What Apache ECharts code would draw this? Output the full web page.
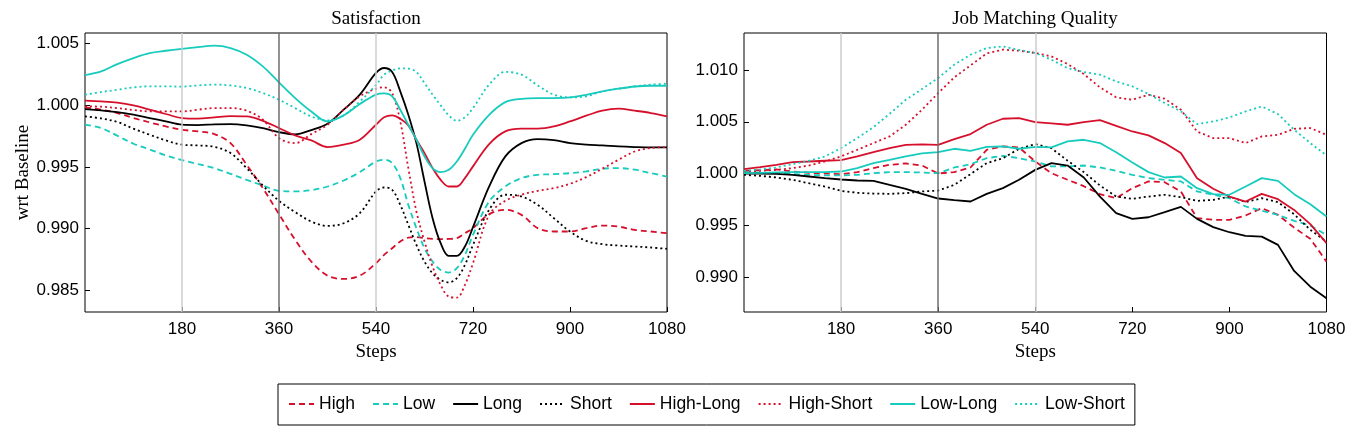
<!DOCTYPE html>
<html><head><meta charset="utf-8">
<script src="https://cdn.jsdelivr.net/npm/echarts@6/dist/echarts.min.js"></script>
<style>html,body{margin:0;padding:0;background:#fff}#c{width:1353px;height:432px}</style>
</head><body><div id="c"></div>
<script>
// ---------- data ----------
const seriesNames = ['High','Low','Long','Short','High-Long','High-Short','Low-Long','Low-Short'];
const panelTitles = ['Satisfaction','Job Matching Quality'];
const xTickStep = 180;
const yTickStep = 0.005;

// Satisfaction panel
const satSteps = [0,30,60,90,120,150,180,210,240,270,300,330,360,390,420,450,480,510,540,555,570,585,600,615,630,645,660,675,690,705,720,750,780,810,840,870,900,930,960,990,1020,1050,1080];
const satHigh = [0.99984,0.99965,0.99938,0.99897,0.99862,0.99829,0.99802,0.99789,0.99767,0.99694,0.99518,0.99329,0.99118,0.98909,0.98733,0.98619,0.98592,0.98619,0.98720,0.98787,0.98841,0.98896,0.98928,0.98931,0.98923,0.98917,0.98915,0.98917,0.98923,0.98963,0.99004,0.99118,0.99153,0.99112,0.99004,0.98977,0.98977,0.99004,0.99025,0.99017,0.98990,0.98977,0.98963];
const satLow = [0.99843,0.99816,0.99754,0.99689,0.99643,0.99594,0.99556,0.99524,0.99491,0.99445,0.99396,0.99350,0.99307,0.99302,0.99312,0.99342,0.99391,0.99459,0.99545,0.99559,0.99532,0.99410,0.99193,0.99004,0.98841,0.98733,0.98665,0.98644,0.98679,0.98787,0.98950,0.99220,0.99342,0.99410,0.99437,0.99442,0.99450,0.99464,0.99486,0.99491,0.99478,0.99450,0.99423];
const satLong = [0.99970,0.99959,0.99946,0.99924,0.99897,0.99870,0.99843,0.99840,0.99846,0.99848,0.99838,0.99816,0.99783,0.99765,0.99800,0.99851,0.99965,1.00087,1.00263,1.00303,1.00270,1.00114,0.99924,0.99694,0.99383,0.99085,0.98882,0.98779,0.98779,0.98855,0.99012,0.99342,0.99586,0.99694,0.99727,0.99718,0.99694,0.99681,0.99675,0.99667,0.99662,0.99659,0.99659];
const satShort = [0.99911,0.99894,0.99865,0.99811,0.99762,0.99716,0.99681,0.99675,0.99664,0.99613,0.99491,0.99350,0.99226,0.99134,0.99058,0.99022,0.99044,0.99126,0.99302,0.99334,0.99315,0.99193,0.99031,0.98868,0.98733,0.98638,0.98584,0.98565,0.98598,0.98706,0.98868,0.99153,0.99275,0.99261,0.99193,0.99085,0.98977,0.98901,0.98874,0.98863,0.98855,0.98847,0.98836];
const satHighLong = [1.00038,1.00032,1.00022,1.00000,0.99965,0.99930,0.99897,0.99892,0.99903,0.99913,0.99911,0.99875,0.99816,0.99756,0.99716,0.99662,0.99681,0.99721,0.99843,0.99903,0.99919,0.99892,0.99838,0.99721,0.99613,0.99491,0.99396,0.99342,0.99342,0.99410,0.99505,0.99686,0.99789,0.99811,0.99811,0.99829,0.99870,0.99916,0.99957,0.99973,0.99957,0.99938,0.99911];
const satHighShort = [0.99992,0.99989,0.99978,0.99962,0.99951,0.99951,0.99951,0.99965,0.99978,0.99978,0.99957,0.99884,0.99735,0.99694,0.99767,0.99843,0.99965,1.00073,1.00135,1.00146,1.00100,0.99870,0.99491,0.99139,0.98896,0.98693,0.98544,0.98449,0.98441,0.98544,0.98720,0.99112,0.99226,0.99275,0.99307,0.99329,0.99364,0.99418,0.99486,0.99559,0.99626,0.99654,0.99662];
const satLowLong = [1.00246,1.00275,1.00335,1.00384,1.00424,1.00443,1.00459,1.00473,1.00484,1.00465,1.00411,1.00316,1.00186,1.00059,0.99950,0.99869,0.99919,1.00011,1.00087,1.00097,1.00073,0.99965,0.99843,0.99721,0.99586,0.99491,0.99458,0.99477,0.99545,0.99648,0.99762,0.99923,1.00026,1.00053,1.00059,1.00059,1.00064,1.00086,1.00113,1.00135,1.00153,1.00159,1.00159];
const satLowShort = [1.00087,1.00108,1.00127,1.00146,1.00154,1.00154,1.00152,1.00162,1.00168,1.00162,1.00141,1.00100,1.00046,0.99978,0.99910,0.99878,0.99919,1.00032,1.00165,1.00249,1.00282,1.00300,1.00298,1.00271,1.00181,1.00087,1.00000,0.99919,0.99875,0.99903,0.99978,1.00168,1.00271,1.00249,1.00162,1.00087,1.00065,1.00073,1.00114,1.00135,1.00154,1.00168,1.00176];

// Job Matching Quality panel
const jobSteps = [0,30,60,90,120,150,180,210,240,270,300,330,360,390,420,450,480,510,540,570,600,630,660,690,720,750,780,810,840,870,900,930,960,990,1020,1050,1080];
const jobHigh = [1.00026,1.00032,1.00039,1.00019,1.00006,1.00000,0.99994,1.00013,1.00052,1.00084,1.00097,1.00077,1.00000,1.00013,1.00058,1.00229,1.00261,1.00252,1.00116,1.00003,0.99939,0.99877,0.99800,0.99761,0.99858,0.99923,0.99916,0.99826,0.99568,0.99552,0.99552,0.99594,0.99665,0.99600,0.99477,0.99368,0.99148];
const jobLow = [1.00013,1.00010,1.00003,0.99994,0.99987,0.99981,0.99981,0.99987,1.00003,1.00013,1.00013,1.00010,1.00003,1.00058,1.00090,1.00148,1.00171,1.00148,1.00116,1.00068,1.00068,1.00077,1.00058,1.00026,0.99987,0.99955,0.99939,0.99923,0.99826,0.99794,0.99761,0.99681,0.99639,0.99600,0.99542,0.99497,0.99406];
const jobLong = [1.00000,1.00000,0.99997,0.99987,0.99971,0.99955,0.99942,0.99932,0.99929,0.99890,0.99852,0.99803,0.99758,0.99742,0.99729,0.99803,0.99858,0.99939,1.00035,1.00100,1.00077,0.99961,0.99777,0.99616,0.99561,0.99577,0.99626,0.99677,0.99561,0.99481,0.99432,0.99397,0.99390,0.99310,0.99058,0.98906,0.98793];
const jobShort = [0.99987,0.99977,0.99961,0.99939,0.99906,0.99874,0.99832,0.99813,0.99806,0.99803,0.99810,0.99826,0.99835,0.99890,0.99994,1.00100,1.00148,1.00239,1.00284,1.00245,1.00123,1.00013,0.99884,0.99777,0.99755,0.99777,0.99794,0.99771,0.99735,0.99745,0.99777,0.99723,0.99761,0.99723,0.99606,0.99455,0.99342];
const jobHighLong = [1.00042,1.00061,1.00084,1.00110,1.00116,1.00123,1.00129,1.00165,1.00206,1.00245,1.00277,1.00281,1.00277,1.00332,1.00381,1.00471,1.00529,1.00536,1.00497,1.00484,1.00471,1.00497,1.00516,1.00461,1.00406,1.00368,1.00294,1.00197,0.99955,0.99852,0.99777,0.99729,0.99803,0.99752,0.99648,0.99510,0.99326];
const jobHighShort = [1.00019,1.00026,1.00035,1.00052,1.00077,1.00116,1.00165,1.00229,1.00294,1.00358,1.00471,1.00616,1.00777,1.00929,1.01045,1.01161,1.01197,1.01187,1.01165,1.01132,1.01058,1.00961,1.00832,1.00736,1.00713,1.00761,1.00723,1.00616,1.00406,1.00342,1.00342,1.00294,1.00358,1.00374,1.00432,1.00439,1.00374];
const jobLowLong = [1.00003,1.00006,1.00010,1.00013,1.00013,1.00013,1.00019,1.00052,1.00100,1.00132,1.00165,1.00194,1.00206,1.00239,1.00219,1.00258,1.00261,1.00239,1.00258,1.00252,1.00310,1.00326,1.00294,1.00206,1.00106,1.00013,0.99961,0.99971,0.99858,0.99800,0.99794,0.99874,0.99955,0.99929,0.99800,0.99703,0.99584];
const jobLowShort = [1.00026,1.00039,1.00058,1.00090,1.00123,1.00165,1.00245,1.00342,1.00448,1.00577,1.00713,1.00816,1.00923,1.01052,1.01148,1.01213,1.01229,1.01194,1.01165,1.01100,1.01019,1.00981,1.00955,1.00890,1.00842,1.00768,1.00681,1.00600,1.00477,1.00503,1.00542,1.00600,1.00648,1.00574,1.00423,1.00294,1.00174];

const markerLines = [180, 360, 540];

// ---------- chart ----------
const RED = '#d6102c', CYAN = '#17cbbd', BLACK = '#000000';
const styleOf = {
  'High':       {color: RED,   type: [6, 4]},
  'Low':        {color: CYAN,  type: [6, 4]},
  'Long':       {color: BLACK, type: 'solid'},
  'Short':      {color: BLACK, type: [2, 3]},
  'High-Long':  {color: RED,   type: 'solid'},
  'High-Short': {color: RED,   type: [2, 3]},
  'Low-Long':   {color: CYAN,  type: 'solid'},
  'Low-Short':  {color: CYAN,  type: [2, 3]}
};
const satData = [satHigh, satLow, satLong, satShort, satHighLong, satHighShort, satLowLong, satLowShort];
const jobData = [jobHigh, jobLow, jobLong, jobShort, jobHighLong, jobHighShort, jobLowLong, jobLowShort];

const SANS = '"Liberation Sans", Arial, sans-serif';
const SERIF = '"Liberation Serif", "Times New Roman", serif';

function mkX(gi) {
  return {
    type: 'value', gridIndex: gi, min: 0, max: 1080, interval: xTickStep,
    name: 'Steps', nameLocation: 'middle', nameGap: 31,
    nameTextStyle: {fontFamily: SERIF, fontSize: 19, color: '#000'},
    axisLine: {show: false},
    axisTick: {show: true, inside: true, length: 5, lineStyle: {color: '#000', width: 1}},
    axisLabel: {showMinLabel: false, fontFamily: SANS, fontSize: 17, color: '#000', margin: 9,
      formatter: function (v) { return String(v); }},
    splitLine: {show: false}
  };
}
function mkY(gi, mn, mx, name) {
  return {
    type: 'value', gridIndex: gi, min: mn, max: mx,
    minInterval: yTickStep, maxInterval: yTickStep, splitNumber: 5,
    name: name, nameLocation: 'middle', nameGap: 52,
    nameTextStyle: {fontFamily: SERIF, fontSize: 19, color: '#000'},
    axisLine: {show: false},
    axisTick: {show: true, inside: true, length: 5, lineStyle: {color: '#000', width: 1}},
    axisLabel: {
      showMinLabel: false, showMaxLabel: false,
      fontFamily: SANS, fontSize: 17, color: '#000', margin: 6,
      formatter: function (v) {
        const r = v / yTickStep;
        return Math.abs(r - Math.round(r)) < 1e-6 ? v.toFixed(3) : '';
      }
    },
    splitLine: {show: false}
  };
}

const series = [];
[0, 1].forEach(function (gi) {
  series.push({
    type: 'line', name: '_vlines' + gi, xAxisIndex: gi, yAxisIndex: gi, data: [],
    silent: true, z: 1,
    markLine: {
      silent: true, symbol: 'none', label: {show: false}, animation: false,
      data: markerLines.map(function (x) {
        return {xAxis: x, lineStyle: {color: x === 360 ? '#6e6e6e' : '#cdcdcd', width: 1.5, type: 'solid'}};
      })
    }
  });
});
[[satSteps, satData, 0], [jobSteps, jobData, 1]].forEach(function (p) {
  const steps = p[0], data = p[1], gi = p[2];
  seriesNames.forEach(function (nm, k) {
    const st = styleOf[nm];
    series.push({
      type: 'line', name: nm, xAxisIndex: gi, yAxisIndex: gi,
      data: steps.map(function (s, i) { return [s, data[k][i]]; }),
      symbol: 'none', showSymbol: false, smooth: gi === 0 ? 0.35 : false,
      color: st.color, z: 3,
      lineStyle: {color: st.color, width: 1.8, type: st.type},
      emphasis: {disabled: true}
    });
  });
});

const chart = echarts.init(document.getElementById('c'), null, {renderer: 'canvas'});
chart.setOption({
  animation: false,
  backgroundColor: '#ffffff',
  grid: [
    {left: 85, right: 686, top: 33, bottom: 120, show: true, borderColor: '#000', borderWidth: 1, backgroundColor: 'transparent', containLabel: false},
    {left: 744, right: 26.5, top: 33, bottom: 120, show: true, borderColor: '#000', borderWidth: 1, backgroundColor: 'transparent', containLabel: false}
  ],
  xAxis: [mkX(0), mkX(1)],
  yAxis: [mkY(0, 0.98324, 1.00587, 'wrt Baseline'), mkY(1, 0.98661, 1.01358, '')],
  legend: {
    data: seriesNames, left: 278, top: 384,
    orient: 'horizontal', itemWidth: 25, itemHeight: 14, itemGap: 17,
    padding: [11, 10, 12, 10],
    borderColor: '#000', borderWidth: 1, backgroundColor: '#fff',
    itemStyle: {opacity: 0, borderWidth: 0},
    textStyle: {fontFamily: SANS, fontSize: 17.5, color: '#000'},
    selectedMode: false
  },
  graphic: [
    {type: 'text', x: 376, y: 19, style: {text: panelTitles[0], font: '19px "Liberation Serif"', fill: '#000', textAlign: 'center', textVerticalAlign: 'middle'}},
    {type: 'text', x: 1035, y: 19, style: {text: panelTitles[1], font: '19px "Liberation Serif"', fill: '#000', textAlign: 'center', textVerticalAlign: 'middle'}}
  ],
  series: series
});
</script>
</body></html>
